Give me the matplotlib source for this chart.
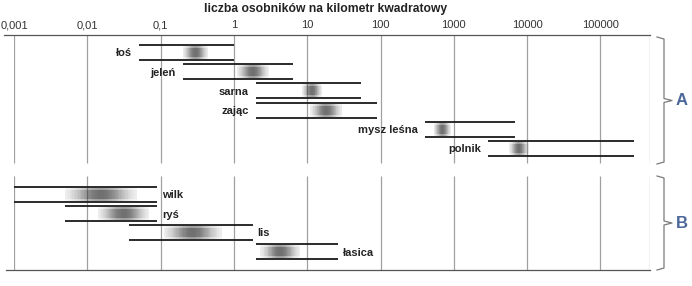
import numpy as np
import matplotlib
matplotlib.use("Agg")
from matplotlib import pyplot as plt
from matplotlib.lines import Line2D

plt.rcParams['font.family'] = ['Liberation Sans', 'DejaVu Sans']

# group A: herbivores / prey
a_names = ['łoś', 'jeleń', 'sarna', 'zając', 'mysz leśna', 'polnik']
a_low = [0.05, 0.2, 2, 2, 400, 2900]
a_high = [1, 6.5, 55, 90, 6800, 290000]
a_grad_low = [0.2, 1.1, 8.5, 11, 530, 5700]
a_grad_high = [0.45, 3.0, 16, 30, 920, 10500]

# group B: predators
b_names = ['wilk', 'ryś', 'lis', 'łasica']
b_low = [0.001, 0.005, 0.037, 2]
b_high = [0.09, 0.09, 1.8, 26]
b_grad_low = [0.005, 0.014, 0.11, 2.3]
b_grad_high = [0.047, 0.07, 0.68, 8]

tick_vals = [0.001, 0.01, 0.1, 1, 10, 100, 1000, 10000, 100000]
tick_labels = ['0,001', '0,01', '0,1', '1', '10', '100', '1000', '10000', '100000']

W, H = 692, 286
fig = plt.figure(figsize=(W / 100, H / 100), dpi=100)
ax = fig.add_axes([14 / W, 1 - 270 / H, 636 / W, 235 / H])
xmax = 10 ** (636 / 73.3 - 3)
ax.set_xscale('log')
ax.set_xlim(0.001, xmax)
ax.set_ylim(270, 35)   # y measured in pixels from the top
for s in ax.spines.values():
    s.set_visible(False)
ax.yaxis.set_visible(False)
ax.xaxis.tick_top()
ax.set_xticks(tick_vals)
ax.set_xticklabels(tick_labels, fontsize=8, color='#333333')
ax.minorticks_off()
ax.tick_params(axis='x', length=0, pad=3.5)

grid_col = '#a0a0a0'
for v in tick_vals + [xmax]:
    ax.vlines(v, 35, 163, color=grid_col, lw=0.9, zorder=1)
    ax.vlines(v, 176, 270, color=grid_col, lw=0.9, zorder=1)
ax.add_line(Line2D([-0.015, 1.0], [1, 1], transform=ax.transAxes, color='#555555',
                   lw=0.9, clip_on=False))
ax.add_line(Line2D([-0.013, 1.0], [0, 0], transform=ax.transAxes, color='#555555',
                   lw=0.9, clip_on=False))

band_h = 15


def draw_band(top, lo, hi, glo, ghi):
    # soft gradient patch made of thin strips, two layers for a vertical fade
    n = 50
    edges = np.linspace(np.log10(glo), np.log10(ghi), n + 1)
    t = np.linspace(-1, 1, n)
    dark = np.exp(-(t / 0.65) ** 2)
    for k in range(n):
        for h, amt in [(band_h - 2, 0.45), (band_h - 6, 0.4)]:
            ax.barh(top + band_h / 2, 10 ** edges[k + 1] - 10 ** edges[k],
                    left=10 ** edges[k], height=h, color='#2a2a2a',
                    alpha=amt * dark[k], lw=0, zorder=2)
    ax.hlines([top, top + band_h], lo, hi, color='#1a1a1a', lw=1.3, zorder=3)


for i, name in enumerate(a_names):
    top = 45 + 19.2 * i
    draw_band(top, a_low[i], a_high[i], a_grad_low[i], a_grad_high[i])
    ax.annotate(name, (a_low[i], top + band_h / 2 + 1), xytext=(-5, 0),
                textcoords='offset points', ha='right', va='center',
                fontsize=8, fontweight='bold', color='#222222')

for j, name in enumerate(b_names):
    top = 187 + 19 * j
    draw_band(top, b_low[j], b_high[j], b_grad_low[j], b_grad_high[j])
    ax.annotate(name, (b_high[j], top + band_h / 2 + 1), xytext=(3.5, 0),
                textcoords='offset points', ha='left', va='center',
                fontsize=8, fontweight='bold', color='#222222')

fig.text(326 / W, 1 - 9 / H, 'liczba osobników na kilometr kwadratowy', ha='center',
         va='center', fontsize=8.7, fontweight='bold', color='#222222')


def bracket(y0, y1, label):
    ym = (y0 + y1) / 2
    xs = [657, 664, 664, 672, 664, 664, 657]
    ys = [y0, y0 + 2, ym - 2, ym, ym + 2, y1 - 2, y1]
    fig.add_artist(Line2D([x / W for x in xs], [1 - y / H for y in ys],
                          color='#7a7a7a', lw=0.9))
    fig.text(682 / W, 1 - ym / H, label, ha='center', va='center', fontsize=12,
             fontweight='bold', color='#4b679a')


bracket(37, 164, 'A')
bracket(176, 270, 'B')

fig.savefig('out.png', dpi=100)
